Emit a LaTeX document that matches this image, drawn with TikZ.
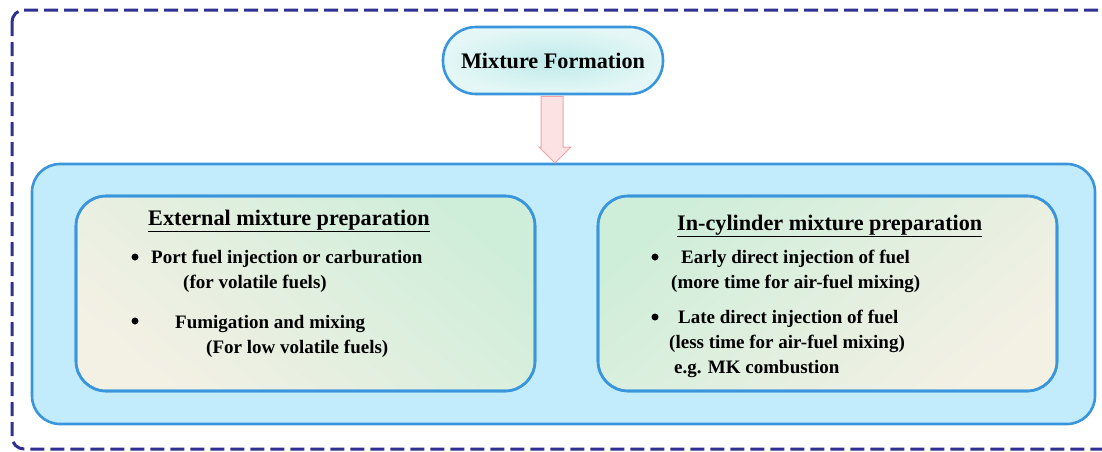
\documentclass[tikz,border=0pt]{standalone}
\usepackage{fontspec}
\setmainfont{Liberation Serif}
\usetikzlibrary{calc}
\definecolor{navy}{HTML}{2E3192}
\definecolor{bord}{HTML}{3A96DC}
\definecolor{bigfill}{HTML}{C2EBFB}
\definecolor{mfin}{HTML}{BFEBEA}
\definecolor{mfout}{HTML}{E4F7F6}
\definecolor{grn}{HTML}{CFEEDA}
\definecolor{beige}{HTML}{F3F0E4}
\definecolor{pinkf}{HTML}{FDE2E4}
\definecolor{pinkd}{HTML}{F2A3A8}
\tikzset{
  title/.style={anchor=base west, inner sep=0pt, font=\fontsize{22.2}{25}\selectfont\bfseries},
  body/.style={anchor=base west, inner sep=0pt, font=\fontsize{19}{22}\selectfont\bfseries},
  dot/.style={circle, fill=black, inner sep=0pt, minimum size=7pt},
  inner/.style={draw=bord, line width=2.6pt, rounded corners=30pt},
}
\begin{document}
\begin{tikzpicture}[x=1pt,y=-1pt]
\useasboundingbox (0,0) rectangle (1102,451);
\clip (0,0) rectangle (1102,451);
% outer dashed frame
\draw[navy, line width=3pt, dash pattern=on 14pt off 6pt, rounded corners=12pt]
  (12,10) rectangle (1120,449);
% big blue container
\draw[draw=bord, fill=bigfill, line width=2.6pt, rounded corners=28pt]
  (32,164) rectangle (1095,424);
% inner boxes
\shade[inner, shading=axis, top color=grn, bottom color=beige, shading angle=-40]
  (76,196) rectangle (535,391);
\draw[inner] (76,196) rectangle (535,391);
\shade[inner, shading=axis, top color=grn, bottom color=beige, shading angle=40]
  (598,196) rectangle (1057,391);
\draw[inner] (598,196) rectangle (1057,391);
% Mixture Formation
\node[draw=bord, line width=2.6pt, inner color=mfin, outer color=mfout,
  rounded corners=33pt, minimum width=220pt, minimum height=67pt,
  font=\fontsize{22.2}{25}\selectfont\bfseries] (mf) at (553,60.5) {Mixture Formation};
% block arrow
\coordinate (tip) at (555,163);
\draw[draw=pinkd, fill=pinkf, line width=1pt]
  ($(mf.south)+(-12,1)$) -- ($(mf.south)+(10,1)$) -- ($(tip)+(8,-16)$)
  -- ($(tip)+(16,-16)$) -- (tip) -- ($(tip)+(-16,-16)$) -- ($(tip)+(-14,-16)$) -- cycle;
% left box text
\node[title] (t1) at (148,225) {\underline{External mixture preparation}};
\node[dot] (b1) at (135,257) {};
\node[body] (l1) at (151,263) {Port fuel injection or carburation};
\node[body] (l2) at (183,288) {(for volatile fuels)};
\node[dot] (b2) at (135,321) {};
\node[body] (l3) at (175,328) {Fumigation and mixing};
\node[body] (l4) at (206,353) {(For low volatile fuels)};
% right box text
\node[title] (t2) at (677,230) {\underline{In-cylinder mixture preparation}};
\node[dot] (b3) at (655,257) {};
\node[body] (r1) at (681,263) {Early direct injection of fuel};
\node[body] (r2) at (671,288) {(more time for air-fuel mixing)};
\node[dot] (b4) at (655,317) {};
\node[body] (r3) at (678,323) {Late direct injection of fuel};
\node[body] (r4) at (669,348) {(less time for air-fuel mixing)};
\node[body] (r5) at (674,373) {e.g. MK combustion};
\end{tikzpicture}
\end{document}
